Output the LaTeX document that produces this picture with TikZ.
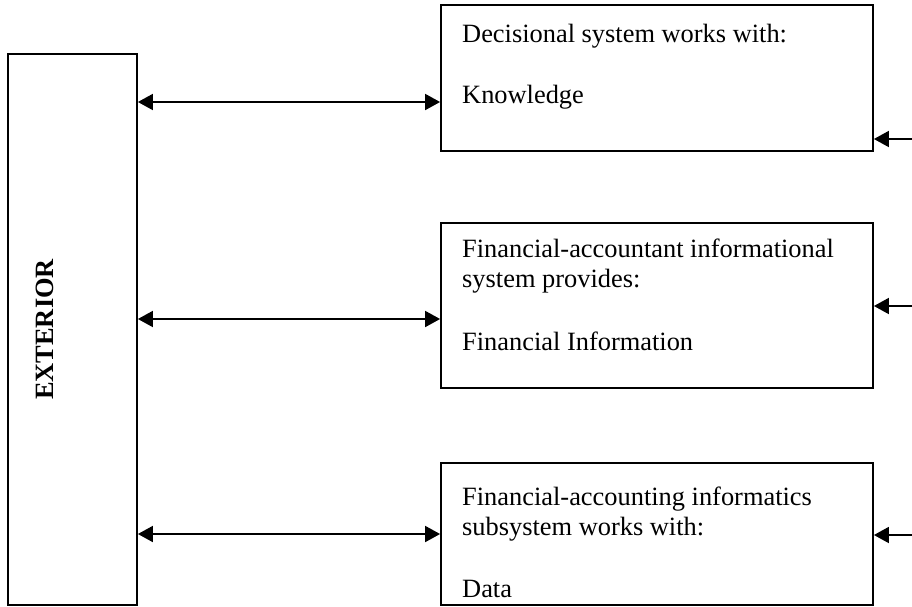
\documentclass[tikz,border=0pt]{standalone}
\usepackage{fontspec}
\setmainfont{Liberation Serif}
\usetikzlibrary{arrows.meta, positioning}

\begin{document}
\begin{tikzpicture}[
    x=1pt, y=-1pt,
    every node/.style = {font=\fontsize{26.4}{30.8}\selectfont},
    sysbox/.style  = {draw, line width=1.8pt, minimum width=432pt, inner sep=0pt},
    extbox/.style  = {draw, line width=1.8pt, minimum width=129pt, minimum height=551pt, inner sep=0pt},
    txt/.style     = {anchor=base west, inner sep=0pt},
    arr/.style     = {-{Triangle[length=15pt, width=16pt]}, line width=1.8pt},
    darr/.style    = {{Triangle[length=15pt, width=16pt]}-{Triangle[length=15pt, width=16pt]}, line width=1.8pt},
]
\useasboundingbox (0,0) rectangle (912,606);

% Exterior
\node[extbox] (ext) at (72.5,329.5) {};
\node[rotate=90, anchor=base, inner sep=0pt, font=\fontsize{26.4}{30.8}\selectfont\bfseries]
    (extlabel) at ([xshift=-19.5pt]ext.center) {EXTERIOR};

% Systems
\node[sysbox, minimum height=146pt] (dec) at (657,78) {};
\node[sysbox, minimum height=165pt] (fin) at (657,305.5) {};
\node[sysbox, minimum height=142pt] (acc) at (657,534) {};

% Texts
\node[txt] (dec1) at (462,42)  {Decisional system works with:};
\node[txt] (dec2) at (462,103) {Knowledge};
\node[txt] (fin1) at (462,257) {Financial-accountant informational};
\node[txt] (fin2) at (462,287) {system provides:};
\node[txt] (fin3) at (462,350) {Financial Information};
\node[txt] (acc1) at (462,505) {Financial-accounting informatics};
\node[txt] (acc2) at (462,535) {subsystem works with:};
\node[txt] (acc3) at (462,597) {Data};

% Links to exterior
\coordinate (l1) at (0,102);
\coordinate (l2) at (0,319);
\coordinate (l3) at (0,534);
\draw[darr] (ext.east |- l1) -- (dec.west |- l1);
\draw[darr] (ext.east |- l2) -- (fin.west |- l2);
\draw[darr] (ext.east |- l3) -- (acc.west |- l3);

% Incoming from the right
\coordinate (r1) at (912,139);
\coordinate (r2) at (912,306);
\coordinate (r3) at (912,535);
\draw[arr] (r1) -- (dec.east |- r1);
\draw[arr] (r2) -- (fin.east |- r2);
\draw[arr] (r3) -- (acc.east |- r3);

\end{tikzpicture}
\end{document}
